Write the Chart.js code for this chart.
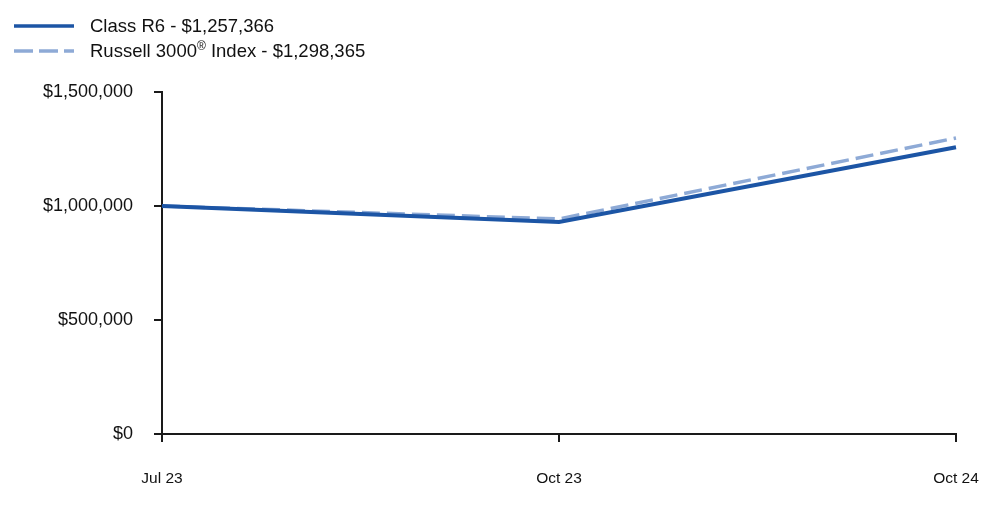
<!DOCTYPE html>
<html>
<head>
<meta charset="utf-8">
<script src="https://cdn.jsdelivr.net/npm/chart.js@4.4.1/dist/chart.umd.min.js"></script>
<style>
  body { margin: 0; background: #fff; font-family: "Liberation Sans", Arial, sans-serif; }
  #wrap { position: relative; width: 1000px; height: 523px; }
  #legend { position: absolute; left: 14px; top: 13px; font-size: 18.5px; color: #111; }
  .row { display: flex; align-items: center; height: 25px; }
  .row svg { margin-right: 16px; }
  sup { font-size: 12px; vertical-align: 7px; line-height: 0; }
</style>
</head>
<body>
<div id="wrap">
  <canvas id="chart" width="1000" height="523"></canvas>
  <div id="legend">
    <div class="row">
      <svg width="60" height="6"><line x1="0" y1="3" x2="60" y2="3" stroke="#1c55a5" stroke-width="3.5"/></svg>
      <span>Class R6 - $1,257,366</span>
    </div>
    <div class="row">
      <svg width="60" height="6"><line x1="0" y1="3" x2="60" y2="3" stroke="#8eaad6" stroke-width="3.5" stroke-dasharray="19 6"/></svg>
      <span>Russell 3000<sup>®</sup> Index - $1,298,365</span>
    </div>
  </div>
</div>
<script>
const labels = ['Jul 23', 'Oct 23', 'Oct 24'];
const classR6 = [1000000, 930000, 1257366];
const russell3000 = [1000000, 943000, 1298365];
const yTicks = [0, 500000, 1000000, 1500000];

const axisColor = '#1a1a1a';

new Chart(document.getElementById('chart'), {
    type: 'line',
    data: {
        labels: labels,
        datasets: [
            {
                label: 'Class R6 - $1,257,366',
                data: classR6,
                borderColor: '#1c55a5',
                borderWidth: 4,
                pointRadius: 0,
                tension: 0,
                fill: false
            },
            {
                label: 'Russell 3000® Index - $1,298,365',
                data: russell3000,
                borderColor: '#8eaad6',
                borderWidth: 3.5,
                borderDash: [18, 7],
                pointRadius: 0,
                tension: 0,
                fill: false
            }
        ]
    },
    options: {
        responsive: false,
        animation: false,
        layout: { padding: { top: 92, right: 44, left: 0, bottom: 0 } },
        plugins: {
            legend: { display: false },
            tooltip: { enabled: false }
        },
        scales: {
            x: {
                offset: false,
                grid: { drawOnChartArea: false, drawTicks: true, tickLength: 8, color: axisColor, lineWidth: 2 },
                border: { color: axisColor, width: 2 },
                ticks: {
                    padding: 27,
                    color: '#111',
                    maxRotation: 0,
                    font: { family: '"Liberation Sans", Arial, sans-serif', size: 15.5 }
                },
                afterFit: scale => {
                    scale.height = 89;
                    scale.paddingLeft = 0;
                    scale.paddingRight = 0;
                }
            },
            y: {
                min: yTicks[0],
                max: yTicks[yTicks.length - 1],
                afterBuildTicks: scale => { scale.ticks = yTicks.map(v => ({ value: v })); },
                grid: { drawOnChartArea: false, drawTicks: true, tickLength: 8, color: axisColor, lineWidth: 2 },
                border: { color: axisColor, width: 2 },
                ticks: {
                    padding: 21,
                    color: '#111',
                    font: { family: '"Liberation Sans", Arial, sans-serif', size: 18 },
                    callback: v => '$' + v.toLocaleString('en-US')
                },
                afterFit: scale => { scale.width = 162; }
            }
        }
    }
});
</script>
</body>
</html>
